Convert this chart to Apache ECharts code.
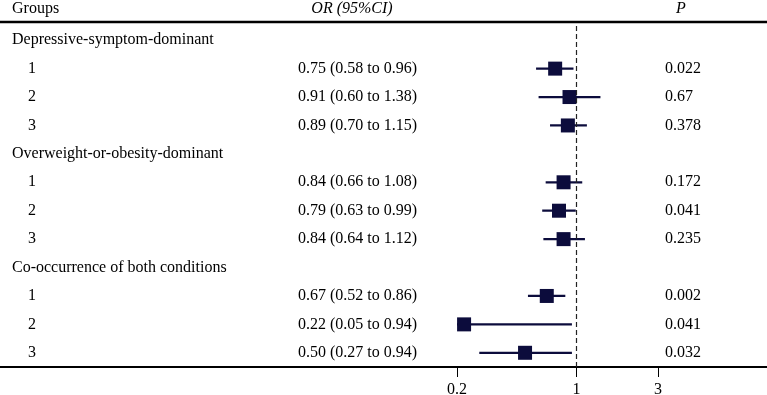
<!DOCTYPE html>
<html>
<head>
<meta charset="utf-8">
<script src="https://cdn.jsdelivr.net/npm/echarts@6/dist/echarts.min.js"></script>
<style>
  html, body { margin: 0; padding: 0; background: #fff; }
  #chart { width: 767px; height: 395px; }
</style>
</head>
<body>
<div id="chart"></div>
<script>
// Rows, top to bottom (group headings have no estimate)
const rowLabels = [
  'Depressive-symptom-dominant', '1', '2', '3',
  'Overweight-or-obesity-dominant', '1', '2', '3',
  'Co-occurrence of both conditions', '1', '2', '3'
];
const orValues = [null, 0.75, 0.91, 0.89, null, 0.84, 0.79, 0.84, null, 0.67, 0.22, 0.50];
const ciLower = [null, 0.58, 0.60, 0.70, null, 0.66, 0.63, 0.64, null, 0.52, 0.05, 0.27];
const ciUpper = [null, 0.96, 1.38, 1.15, null, 1.08, 0.99, 1.12, null, 0.86, 0.94, 0.94];
const pValues = ['', '0.022', '0.67', '0.378', '', '0.172', '0.041', '0.235', '', '0.002', '0.041', '0.032'];
const xTicks = [0.2, 1, 3];

const FONT = '"Liberation Serif", "DejaVu Serif", serif';
const FS = 16;
const INK = '#0c0c3c';

const orText = orValues.map((v, i) =>
  v == null ? '' : `${v.toFixed(2)} (${ciLower[i].toFixed(2)} to ${ciUpper[i].toFixed(2)})`);
const forestData = [];
orValues.forEach((v, i) => {
  if (v != null) forestData.push([v, i, ciLower[i], ciUpper[i]]);
});

const chart = echarts.init(document.getElementById('chart'));

// shared look of the three text columns
const textAxis = (data, labelOpts) => ({
  type: 'category',
  inverse: true,
  position: 'left',
  data: data,
  axisLine: { show: false },
  axisTick: { show: false },
  splitLine: { show: false },
  axisLabel: Object.assign({
    interval: 0,
    color: '#000',
    fontSize: FS,
    fontFamily: FONT
  }, labelOpts)
});

chart.setOption({
  animation: false,
  grid: { left: 457, right: 0, top: 26, bottom: 28, outerBoundsMode: 'none' },
  xAxis: {
    type: 'log',
    min: 0.2,
    max: 13,
    axisLine: { show: true, lineStyle: { color: '#000', width: 2 } },
    splitLine: { show: false },
    axisTick: {
      show: true,
      customValues: xTicks,
      length: 10,
      lineStyle: { color: '#000', width: 1 }
    },
    axisLabel: {
      customValues: xTicks,
      margin: 15,
      color: '#000',
      fontSize: FS,
      fontFamily: FONT
    }
  },
  yAxis: [
    textAxis(rowLabels, {
      align: 'left',
      margin: 445,
      formatter: (v) => (isNaN(+v) ? '{g|' + v + '}' : '{n|' + v + '}'),
      rich: {
        g: { fontSize: FS, fontFamily: FONT, color: '#000' },
        n: { fontSize: FS, fontFamily: FONT, color: '#000', padding: [0, 0, 0, 16] }
      }
    }),
    textAxis(orText, { align: 'right', margin: 40 }),
    textAxis(pValues, { align: 'left', margin: -208 })
  ],
  series: [
    {
      type: 'custom',
      clip: true,
      data: forestData,
      encode: { x: [0, 2, 3], y: 1 },
      renderItem: (params, api) => {
        const row = api.value(1);
        const c = api.coord([api.value(0), row]);
        const lo = api.coord([api.value(2), row]);
        const hi = api.coord([api.value(3), row]);
        const s = 14;
        return {
          type: 'group',
          children: [
            {
              type: 'line',
              shape: { x1: lo[0], y1: c[1], x2: hi[0], y2: c[1] },
              style: { stroke: INK, lineWidth: 2.2 }
            },
            {
              type: 'rect',
              shape: { x: c[0] - s / 2, y: c[1] - s / 2, width: s, height: s },
              style: { fill: INK }
            }
          ]
        };
      },
      markLine: {
        silent: true,
        symbol: 'none',
        label: { show: false },
        lineStyle: { color: '#222', type: [5, 3], width: 1.2 },
        data: [{ xAxis: 1 }]
      }
    }
  ],
  graphic: [
    { type: 'line', shape: { x1: 0, y1: 22, x2: 767, y2: 22 }, style: { stroke: '#000', lineWidth: 2.5 } },
    { type: 'line', shape: { x1: 0, y1: 367, x2: 767, y2: 367 }, style: { stroke: '#000', lineWidth: 2 } },
    { type: 'text', x: 12, y: 9, style: { text: 'Groups', font: FS + 'px ' + FONT, fill: '#000', verticalAlign: 'middle' } },
    { type: 'text', x: 352, y: 9, style: { text: 'OR (95%CI)', font: 'italic ' + FS + 'px ' + FONT, fill: '#000', align: 'center', verticalAlign: 'middle' } },
    { type: 'text', x: 681, y: 9, style: { text: 'P', font: 'italic ' + FS + 'px ' + FONT, fill: '#000', align: 'center', verticalAlign: 'middle' } }
  ]
});
</script>
</body>
</html>
